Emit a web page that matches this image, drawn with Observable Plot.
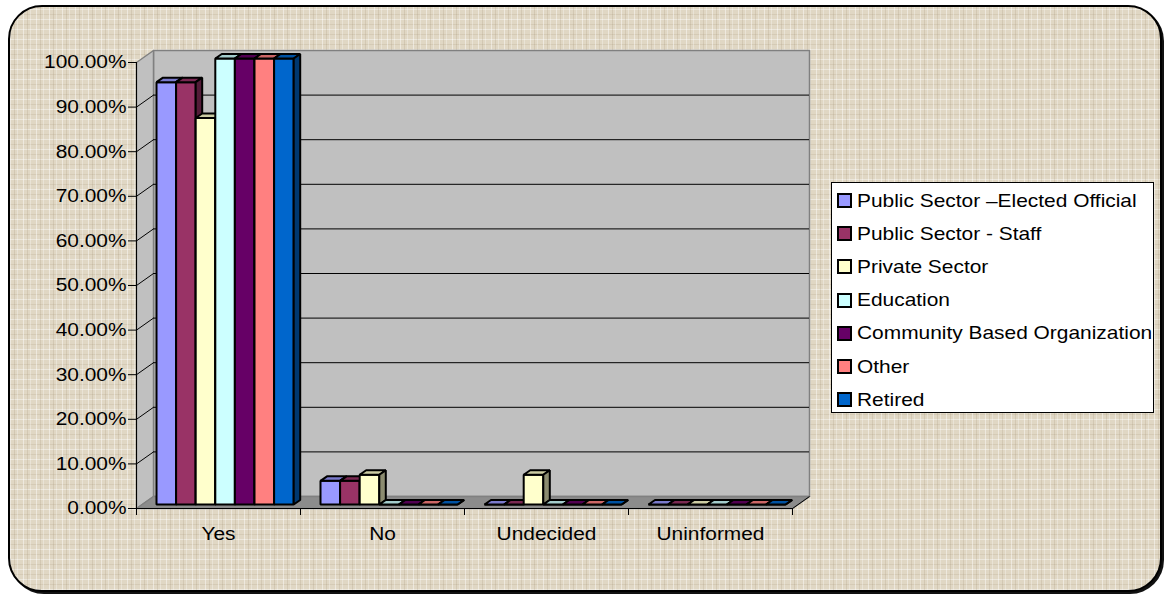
<!DOCTYPE html>
<html><head><meta charset="utf-8">
<script src="https://cdn.jsdelivr.net/npm/d3@7"></script>
<script src="https://cdn.jsdelivr.net/npm/@observablehq/plot@0.6"></script>
<style>
html,body{margin:0;padding:0;background:#fff;width:1164px;height:595px;overflow:hidden;font-family:"Liberation Sans",Arial,sans-serif;}
#frame{position:absolute;left:8px;top:5px;width:1154px;height:587px;box-sizing:border-box;border:2px solid #000;border-radius:34px;box-shadow:2px 2px 0 #111;
background-color:#e0d7c4;
background-image:
 repeating-linear-gradient(90deg, rgba(255,255,255,.45) 0 1px, transparent 1px 4px, rgba(150,130,100,.18) 4px 5px, transparent 5px 7px, rgba(255,255,255,.3) 7px 8px, transparent 8px 13px),
 repeating-linear-gradient(0deg, rgba(255,255,255,.4) 0 1px, transparent 1px 5px, rgba(150,130,100,.15) 5px 6px, transparent 6px 10px);
}
#chart{position:absolute;left:0;top:0;}
#legend{position:absolute;left:831px;top:182px;width:323px;height:231px;box-sizing:border-box;background:#fff;border:1px solid #000;overflow:hidden;padding-top:1px;}
.item{height:33.2px;display:flex;align-items:center;white-space:nowrap;}
.sw{width:15px;height:15px;box-sizing:border-box;border:2px solid #000;margin-left:5px;flex:none;}
.lab{margin-left:5px;font-size:18.5px;transform:scaleX(1.13);transform-origin:left center;color:#000;}
</style></head><body>
<div id="frame"></div>
<div id="chart"></div>
<div id="legend"></div>
<script>
// ---- data ----
const categories = ["Yes", "No", "Undecided", "Uninformed"];
const seriesNames = ["Public Sector –Elected Official", "Public Sector - Staff", "Private Sector", "Education", "Community Based Organization", "Other", "Retired"];
const seriesColors = ["#9999FF", "#993366", "#FFFFCC", "#CCFFFF", "#660066", "#FF8080", "#0066CC"];
const electedOfficial = [0.947, 0.053, 0, 0];
const publicSectorStaff = [0.947, 0.053, 0, 0];
const privateSector = [0.8667, 0.0667, 0.0667, 0];
const education = [1, 0, 0, 0];
const communityBased = [1, 0, 0, 0];
const other = [1, 0, 0, 0];
const retired = [1, 0, 0, 0];
const yTicks = [0, 0.1, 0.2, 0.3, 0.4, 0.5, 0.6, 0.7, 0.8, 0.9, 1.0];

const seriesValues = [electedOfficial, publicSectorStaff, privateSector, education, communityBased, other, retired];

// ---- layout ----
const W = 1164, H = 595, mL = 136, mR = 372, mT = 62, mB = 87;
const n = categories.length;
const pxX = (W - mL - mR) / n;
const pxY = H - mT - mB;
const WDX = 17 / pxX, WDY = 12 / pxY;         // wall depth
const PAD = 20 / pxX, BW = 19.6 / pxX;          // bar placement in band
const BY = 4 / pxY, BDX = 6.5 / pxX, BDY = 4.5 / pxY; // bar depth

const shade = (c, k) => { const r = d3.rgb(c); return d3.rgb(r.r * k, r.g * k, r.b * k).formatHex(); };

let pid = 0;
function poly(arr, pts, fill) { const k = pid++; pts.forEach(([x, y]) => arr.push({id: k, x, y, fill})); }

const walls = [];
poly(walls, [[WDX, WDY], [n + WDX, WDY], [n + WDX, 1 + WDY], [WDX, 1 + WDY]], "#c0c0c0");
poly(walls, [[0, 0], [WDX, WDY], [WDX, 1 + WDY], [0, 1]], "#c0c0c0");
poly(walls, [[0, 0], [n, 0], [n + WDX, WDY], [WDX, WDY]], "#8c8c8c");

const faces = [];
categories.forEach((cat, ci) => {
  seriesValues.forEach((vals, si) => {
    const v = vals[ci], x0 = ci + PAD + si * BW, x1 = x0 + BW, c = seriesColors[si];
    poly(faces, [[x0, BY], [x1, BY], [x1, v + BY], [x0, v + BY]], c);
    poly(faces, [[x0, v + BY], [x1, v + BY], [x1 + BDX, v + BY + BDY], [x0 + BDX, v + BY + BDY]], shade(c, 0.8));
    poly(faces, [[x1, BY], [x1 + BDX, BY + BDY], [x1 + BDX, v + BY + BDY], [x1, v + BY]], shade(c, 0.55));
  });
});

const inner = yTicks.filter(t => t > 0 && t < 1);

const plot = Plot.plot({
  width: W, height: H, marginLeft: mL, marginRight: mR, marginTop: mT, marginBottom: mB,
  x: {domain: [0, n], axis: null, label: null},
  y: {domain: [0, 1], axis: null, label: null},
  color: {type: "identity"},
  style: {background: "transparent", fontFamily: "Liberation Sans, Arial, sans-serif", fontSize: "18.5px", color: "#000", overflow: "visible"},
  marks: [
    Plot.line(walls, {x: "x", y: "y", z: "id", fill: "fill", stroke: "#808080", strokeWidth: 1.5, curve: "linear-closed"}),
    Plot.ruleY(inner, {y: t => t + WDY, x1: WDX, x2: n + WDX, stroke: "#000", strokeWidth: 1}),
    Plot.link(inner, {x1: 0, y1: t => t, x2: WDX, y2: t => t + WDY, stroke: "#000", strokeWidth: 1}),
    Plot.link([n], {x1: d => d, y1: 0, x2: d => d + WDX, y2: WDY, stroke: "#000", strokeWidth: 1}),
    Plot.line(faces, {x: "x", y: "y", z: "id", fill: "fill", stroke: "#000", strokeWidth: 2, strokeLinejoin: "miter", curve: "linear-closed"}),
    Plot.ruleX([0], {y1: 0, y2: 1, stroke: "#000", strokeWidth: 1}),
    Plot.ruleY([0], {x1: 0, x2: n, stroke: "#000", strokeWidth: 1}),
    Plot.axisY(yTicks, {tickFormat: d3.format(".2%"), tickSize: 8, tickPadding: 2, label: null}),
    Plot.axisX(d3.range(n + 1), {tickSize: 7, tickFormat: () => "", label: null}),
    Plot.axisX(d3.range(n).map(i => i + 0.5), {tickSize: 0, tickPadding: 18, tickFormat: t => categories[Math.floor(t)], label: null})
  ]
});

plot.querySelectorAll("text").forEach(t => {
  const tr = t.getAttribute("transform");
  if (tr) t.setAttribute("transform", tr + " scale(1.13,1)");
  else {
    const x = +t.getAttribute("x") || 0, y = +t.getAttribute("y") || 0;
    t.removeAttribute("x"); t.removeAttribute("y");
    t.setAttribute("transform", `translate(${x},${y}) scale(1.13,1)`);
  }
});
document.getElementById("chart").appendChild(plot);

const legend = document.getElementById("legend");
seriesNames.forEach((name, i) => {
  const row = document.createElement("div");
  row.className = "item";
  const sw = document.createElement("span"); sw.className = "sw"; sw.style.background = seriesColors[i];
  const lab = document.createElement("span"); lab.className = "lab"; lab.textContent = name;
  row.appendChild(sw); row.appendChild(lab);
  legend.appendChild(row);
});
</script></body></html>
